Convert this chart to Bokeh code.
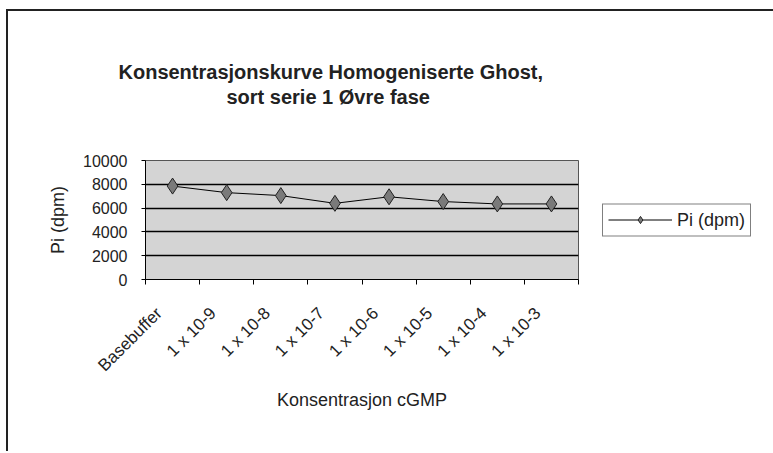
from bokeh.plotting import figure
from bokeh.models import FixedTicker, Legend, LegendItem, Range1d, ColumnDataSource, Title
from bokeh.embed import file_html
from bokeh.resources import INLINE

categories = ["Basebuffer", "1 x 10-9", "1 x 10-8", "1 x 10-7", "1 x 10-6", "1 x 10-5", "1 x 10-4", "1 x 10-3"]
pi_dpm = [7850, 7300, 7050, 6400, 6950, 6550, 6350, 6350]
y_ticks = [0, 2000, 4000, 6000, 8000, 10000]
title_lines = ["Konsentrasjonskurve Homogeniserte Ghost,", "sort serie 1 Øvre fase"]

xs = list(range(1, len(categories) + 1))
src = ColumnDataSource(dict(x=xs, y=pi_dpm))

p = figure(frame_width=433, frame_height=119, output_backend="svg", toolbar_location=None,
           title=None,
           x_range=Range1d(0.5, len(categories) + 0.5), y_range=Range1d(0, 10000),
           min_border_left=137, min_border_top=149, min_border_bottom=172, min_border_right=190)

p.styles = {"border-left": "2px solid #222", "border-top": "2px solid #222",
            "margin-left": "6px", "margin-top": "9px"}

# spacer between title block and plot area
spacer = Title(text=" ", align="left", standoff=39, text_font="Liberation Sans",
               text_font_size="10px", text_color="white")
t2 = Title(text=title_lines[1], align="left", offset=81, standoff=2,
           text_font="Liberation Sans", text_font_size="20px", text_font_style="bold",
           text_color="#222222")
t1 = Title(text=title_lines[0], align="left", offset=-27, standoff=0,
           text_font="Liberation Sans", text_font_size="20px", text_font_style="bold",
           text_color="#222222")
p.add_layout(spacer, "above")
p.add_layout(t2, "above")
p.add_layout(t1, "above")

p.background_fill_color = "#d4d4d4"
p.border_fill_color = "white"
p.outline_line_color = "#555555"
p.outline_line_width = 1

# Y axis
p.yaxis.ticker = FixedTicker(ticks=y_ticks)
p.yaxis.axis_label = "Pi (dpm)"
p.yaxis.axis_label_text_font = "Liberation Sans"
p.yaxis.axis_label_text_font_size = "18px"
p.yaxis.axis_label_text_font_style = "normal"
p.yaxis.axis_label_text_color = "#222222"
p.yaxis.axis_label_standoff = 12
p.yaxis.major_label_text_font = "Liberation Sans"
p.yaxis.major_label_text_font_size = "16px"
p.yaxis.major_label_text_color = "#222222"
p.yaxis.major_label_standoff = 14
p.yaxis.major_tick_out = 4
p.yaxis.major_tick_in = 0
p.yaxis.minor_tick_line_color = None
p.yaxis.axis_line_color = "black"

p.ygrid.ticker = FixedTicker(ticks=y_ticks)
p.ygrid.grid_line_color = "black"
p.ygrid.grid_line_width = 1.5
p.xgrid.grid_line_color = None

# X axis: labels near category centers (shifted as in reference), ticks between categories
label_pos = [x - 0.25 for x in xs]
boundaries = [x + 0.5 for x in range(0, len(categories) + 1)]
p.xaxis.ticker = FixedTicker(ticks=label_pos, minor_ticks=boundaries)
p.xaxis.major_label_overrides = {lp: c for lp, c in zip(label_pos, categories)}
p.xaxis.major_label_orientation = 0.785398
p.xaxis.major_label_text_font = "Liberation Sans"
p.xaxis.major_label_text_font_size = "17px"
p.xaxis.major_label_text_color = "#222222"
p.xaxis.major_label_standoff = 26
p.xaxis.major_tick_out = 0
p.xaxis.major_tick_in = 0
p.xaxis.minor_tick_out = 5
p.xaxis.minor_tick_in = 0
p.xaxis.minor_tick_line_color = "black"
p.xaxis.axis_line_color = "black"
p.xaxis.axis_label = "Konsentrasjon cGMP"
p.xaxis.axis_label_text_font = "Liberation Sans"
p.xaxis.axis_label_text_font_size = "18px"
p.xaxis.axis_label_text_font_style = "normal"
p.xaxis.axis_label_text_color = "#222222"
p.xaxis.axis_label_standoff = 5

ln = p.line("x", "y", source=src, line_color="black", line_width=1)
mk = p.scatter("x", "y", source=src, marker="diamond", size=16,
               fill_color="#7a7a7a", line_color="#222222", line_width=1)

legend = Legend(items=[LegendItem(label="Pi (dpm)", renderers=[ln, mk])],
                location="center_left", orientation="vertical")
legend.label_text_font = "Liberation Sans"
legend.label_text_font_size = "18px"
legend.label_text_color = "#222222"
legend.glyph_width = 64
legend.glyph_height = 18
legend.border_line_color = "black"
legend.border_line_width = 1.5
legend.padding = 5
legend.spacing = 0
legend.margin = 24
legend.label_standoff = 5
legend.background_fill_color = "white"
p.add_layout(legend, "right")

open("out.html", "w").write(file_html(p, INLINE))
